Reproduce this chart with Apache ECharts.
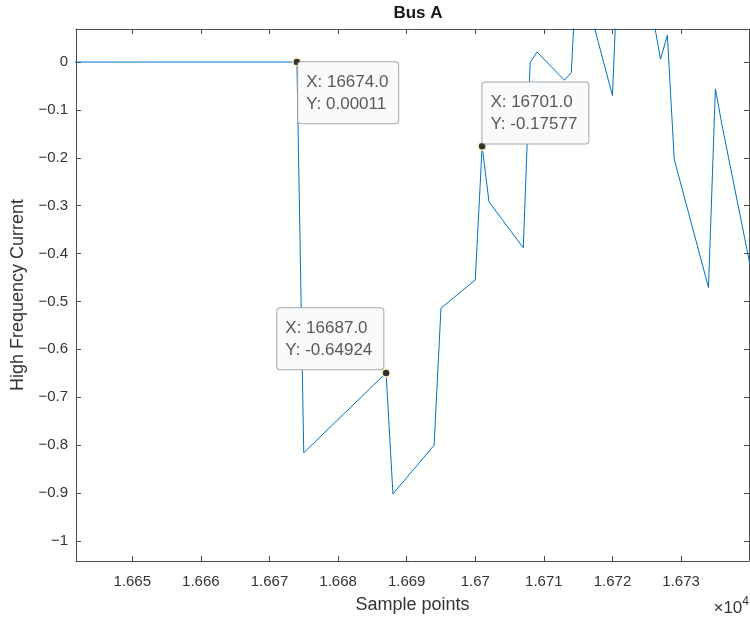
<!DOCTYPE html>
<html>
<head>
<meta charset="utf-8">
<script src="https://cdn.jsdelivr.net/npm/echarts@6/dist/echarts.min.js"></script>
<style>
  html, body { margin: 0; padding: 0; background: #fff; }
  #main { width: 750px; height: 620px; }
</style>
</head>
<body>
<div id="main"></div>
<script>
// sample index and measured current
var samples = [16640, 16674, 16675, 16687, 16688, 16694, 16695, 16700, 16701, 16702,
               16707, 16708, 16709, 16713, 16714, 16715, 16716, 16717, 16720, 16721,
               16722, 16723, 16724, 16725, 16726, 16727, 16728, 16729, 16734, 16735,
               16736, 16740];
var current = [0, 0.00011, -0.816, -0.64924, -0.902, -0.800, -0.514, -0.455, -0.17577, -0.292,
               -0.388, -0.001, 0.021, -0.038, -0.022, 0.256, 0.20, 0.092, -0.070, 0.28,
               0.30, 0.26, 0.22, 0.16, 0.087, 0.006, 0.056, -0.203, -0.471, -0.056,
               -0.134, -0.42];

// data tips
var tipX = [16674, 16687, 16701];
var tipY = [0.00011, -0.64924, -0.17577];

// tick marks
var xTicks = [16650, 16660, 16670, 16680, 16690, 16700, 16710, 16720, 16730];
var yTicks = [0, -0.1, -0.2, -0.3, -0.4, -0.5, -0.6, -0.7, -0.8, -0.9, -1];

var myChart = echarts.init(document.getElementById('main'));

var axisCol = '#4d4d4d';
var txtCol = '#333333';
var font = 'Liberation Sans';

var lineData = [];
for (var i = 0; i < samples.length; i++) {
    lineData.push([samples[i], current[i]]);
}

// where each tip box sits relative to its marker (box = width + 18 padding)
var tipPos = [
    { position: [6, 5], width: 82, verticalAlign: 'top' },
    { position: [-104, 1], width: 88, verticalAlign: 'bottom' },
    { position: [5, 2], width: 88, verticalAlign: 'bottom' }
];
var tipData = [];
for (var j = 0; j < tipX.length; j++) {
    tipData.push({ value: [tipX[j], tipY[j]], label: tipPos[j] });
}

function xAx(pos, showLabel) {
    return {
        type: 'value',
        position: pos,
        min: 16641.8,
        max: 16739.9,
        axisLine: { show: true, onZero: false, lineStyle: { color: axisCol, width: 1 } },
        axisTick: { show: true, inside: true, length: 5, customValues: xTicks, lineStyle: { color: axisCol } },
        axisLabel: {
            show: showLabel,
            customValues: xTicks,
            margin: 13,
            color: txtCol,
            fontFamily: font,
            fontSize: 15,
            formatter: function (v) { return String(Number((v / 10000).toFixed(4))); }
        },
        splitLine: { show: false },
        name: showLabel ? 'Sample points' : '',
        nameLocation: 'middle',
        nameGap: 35,
        nameTextStyle: { color: txtCol, fontFamily: font, fontSize: 18 }
    };
}

function yAx(pos, showLabel) {
    return {
        type: 'value',
        position: pos,
        min: -1.042,
        max: 0.069,
        axisLine: { show: true, onZero: false, lineStyle: { color: axisCol, width: 1 } },
        axisTick: { show: true, inside: true, length: 5, customValues: yTicks, lineStyle: { color: axisCol } },
        axisLabel: {
            show: showLabel,
            customValues: yTicks,
            margin: 8,
            color: txtCol,
            fontFamily: font,
            fontSize: 15,
            formatter: function (v) { return String(Number(v.toFixed(1))).replace('-', '\u2212'); }
        },
        splitLine: { show: false },
        name: showLabel ? 'High Frequency Current' : '',
        nameLocation: 'middle',
        nameGap: 46,
        nameTextStyle: { color: txtCol, fontFamily: font, fontSize: 18 }
    };
}

var option = {
    backgroundColor: '#ffffff',
    animation: false,
    title: {
        text: 'Bus A',
        left: 413,
        textAlign: 'center',
        top: 0,
        textStyle: { color: '#1a1a1a', fontFamily: font, fontSize: 17, fontWeight: 'bold' }
    },
    grid: { left: 76, right: 1, top: 29, bottom: 59, containLabel: false },
    xAxis: [xAx('bottom', true), xAx('top', false)],
    yAxis: [yAx('left', true), yAx('right', false)],
    graphic: [{
        type: 'text',
        right: 1,
        bottom: 3,
        style: {
            text: '{a|×10}{b|4}',
            rich: {
                a: { fontFamily: font, fontSize: 17, fill: txtCol, verticalAlign: 'bottom' },
                b: { fontFamily: font, fontSize: 12, fill: txtCol, verticalAlign: 'top', padding: [0, 0, 9, 0] }
            }
        }
    }],
    series: [
        {
            type: 'line',
            xAxisIndex: 0,
            yAxisIndex: 0,
            data: lineData,
            showSymbol: false,
            clip: true,
            lineStyle: { color: '#0072BD', width: 1 },
            z: 2
        },
        {
            type: 'scatter',
            xAxisIndex: 0,
            yAxisIndex: 0,
            data: tipData,
            symbol: 'circle',
            symbolSize: 8,
            itemStyle: { color: '#333333', borderColor: '#fff4c0', borderWidth: 1.5, opacity: 1 },
            z: 5,
            label: {
                show: true,
                align: 'left',
                formatter: function (p) {
                    return 'X: ' + p.value[0].toFixed(1) + '\nY: ' + String(Number(p.value[1].toPrecision(5)));
                },
                color: '#595959',
                fontFamily: font,
                fontSize: 17,
                lineHeight: 22,
                backgroundColor: '#f9fafc',
                borderColor: '#a6a6a6',
                borderWidth: 1,
                borderRadius: 3,
                padding: [9, 10, 8, 8]
            },
            emphasis: { disabled: true }
        }
    ]
};

myChart.setOption(option);
</script>
</body>
</html>
